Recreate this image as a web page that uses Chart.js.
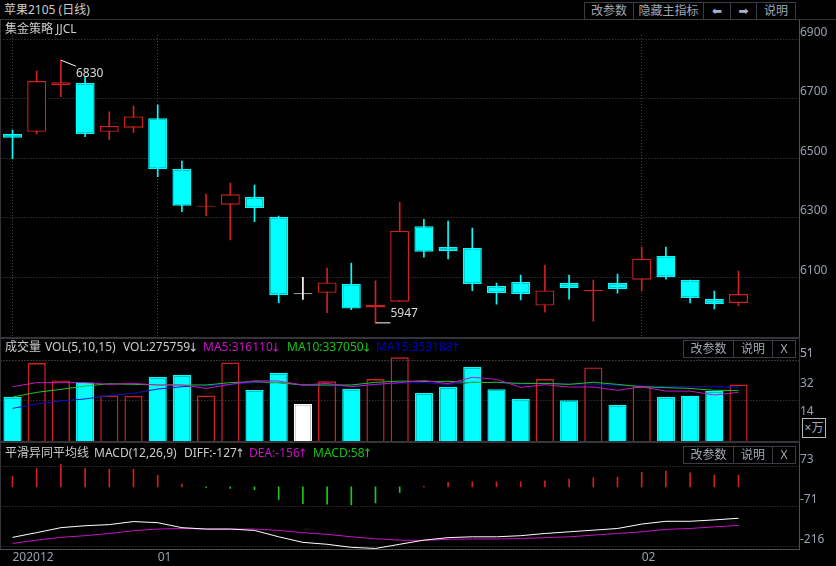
<!DOCTYPE html>
<html>
<head>
<meta charset="utf-8">
<title>苹果2105 (日线)</title>
<script src="https://cdn.jsdelivr.net/npm/chart.js@4"></script>
<style>
html, body { margin: 0; padding: 0; background: #000; }
#page { position: relative; width: 836px; height: 566px; overflow: hidden; background: #000;
        font: 12px "Noto Sans", "Noto Sans CJK SC", sans-serif; color: #cccccc; }
canvas { position: absolute; left: 0; }
.txt { position: absolute; white-space: nowrap; line-height: 14px; }
.ar { display: inline-block; width: 6px; font-size: 10px; font-weight: bold; text-indent: -2px; }
.btn { position: absolute; box-sizing: border-box; border: 1px solid #3a3d44; color: #a2a8b6;
       text-align: center; line-height: 16px; white-space: nowrap; background: #000; }
.sep { position: absolute; background: #34343a; }
.mag { color: #c414c4; } .grn { color: #14c414; } .blu { color: #0000c8; }
</style>
</head>
<body>
<div id="page">
  <canvas id="priceChart" width="836" height="317" style="top:20px"></canvas>
  <canvas id="volChart" width="836" height="102" style="top:339px"></canvas>
  <canvas id="macdChart" width="836" height="123" style="top:443px"></canvas>

  <div class="sep" style="left:0;top:19px;width:836px;height:1px"></div>
  <div class="sep" style="left:0;top:337px;width:800px;height:2px"></div>
  <div class="sep" style="left:0;top:441px;width:800px;height:2px"></div>
  <div class="sep" style="left:0;top:19px;width:1px;height:530px"></div>
  <div class="sep" style="left:799px;top:337px;width:1px;height:106px"></div>

  <div style="position:absolute;left:1px;top:20px;width:798px;height:13px;background:#000"></div>
  <div class="txt" style="left:4px;top:3px">苹果2105 (日线)</div>
  <div class="txt" style="left:5px;top:22px">集金策略 JJCL</div>

  <div class="btn" style="left:584px;top:2px;width:50px;height:18px">改参数</div>
  <div class="btn" style="left:633px;top:2px;width:71px;height:18px">隐藏主指标</div>
  <div class="btn" style="left:703px;top:2px;width:28px;height:18px;color:#a8b4cc;font-family:'DejaVu Sans'">⬅</div>
  <div class="btn" style="left:730px;top:2px;width:27px;height:18px;color:#a8b4cc;font-family:'DejaVu Sans'">➡</div>
  <div class="btn" style="left:756px;top:2px;width:40px;height:18px">说明</div>

  <div class="txt" style="left:5px;top:340px">成交量</div>
  <div class="txt" style="left:45px;top:340px">VOL(5,10,15)</div>
  <div class="txt" style="left:123px;top:340px">VOL:275759<span class="ar">↓</span></div>
  <div class="txt mag" style="left:203px;top:340px">MA5:316110<span class="ar">↓</span></div>
  <div class="txt grn" style="left:287px;top:340px">MA10:337050<span class="ar">↓</span></div>
  <div class="txt blu" style="left:376px;top:340px">MA15:353188<span class="ar">↑</span></div>
  <div class="btn" style="left:683px;top:340px;width:51px;height:18px">改参数</div>
  <div class="btn" style="left:733px;top:340px;width:40px;height:18px">说明</div>
  <div class="btn" style="left:772px;top:340px;width:24px;height:18px">X</div>
  <div class="btn" style="left:802px;top:418px;width:24px;height:20px;border-color:#b8b8b8;line-height:18px">×万</div>

  <div class="txt" style="left:5px;top:446px">平滑异同平均线</div>
  <div class="txt" style="left:94px;top:446px">MACD(12,26,9)</div>
  <div class="txt" style="left:184px;top:446px">DIFF:-127<span class="ar">↑</span></div>
  <div class="txt mag" style="left:249px;top:446px">DEA:-156<span class="ar">↑</span></div>
  <div class="txt grn" style="left:313px;top:446px">MACD:58<span class="ar">↑</span></div>
  <div class="btn" style="left:683px;top:446px;width:51px;height:18px">改参数</div>
  <div class="btn" style="left:733px;top:446px;width:40px;height:18px">说明</div>
  <div class="btn" style="left:772px;top:446px;width:24px;height:18px">X</div>
</div>

<script>
/* Data */
const categories = ['202012', '', '', '', '', '', '01', '', '', '', '', '', '', '', '', '', '',
    '', '', '', '', '', '', '', '', '', '02', '', '', '', '', '', ''];

const opens  = [6582, 6589, 6746, 6753, 6589, 6603, 6635, 6464, 6337, 6344, 6370, 6303, 6043, 6048, 6078, 5999,
    6018, 6272, 6202, 6199, 6071, 6084, 6005, 6081, 6054, 6081, 6092, 6172, 6091, 6027, 6014];
const highs  = [6595, 6793, 6830, 6774, 6656, 6676, 6679, 6491, 6380, 6417, 6410, 6306, 6100, 6131, 6148, 6088,
    6352, 6295, 6289, 6266, 6081, 6108, 6141, 6108, 6091, 6111, 6202, 6202, 6091, 6054, 6121];
const lows   = [6499, 6582, 6707, 6573, 6563, 6586, 6438, 6321, 6307, 6226, 6287, 6015, 6026, 5981, 5991, 5947,
    6018, 6168, 6162, 6055, 6010, 6024, 5983, 6027, 5953, 6047, 6054, 6094, 6014, 5994, 6004];
const closes = [6569, 6760, 6756, 6582, 6609, 6641, 6464, 6341, 6340, 6379, 6333, 6041, 6043, 6083, 5995, 6007,
    6256, 6186, 6188, 6078, 6047, 6044, 6056, 6064, 6058, 6061, 6162, 6101, 6031, 6010, 6044];

const volumes = [28, 49.7, 38.6, 37.2, 29, 28.7, 40.8, 42, 29, 50, 32.5, 43.3, 23.6, 38, 33.3, 39.5,
    53.3, 30.6, 34.4, 47.1, 33, 26.8, 39.5, 26, 46.9, 23, 34.6, 28, 28.9, 31.8, 36];
const ma5  = [34.6, 37.2, 37.2, 37.2, 36.1, 36.7, 35.7, 35.7, 33.5, 36.1, 38.4, 38.2, 35.7, 36.7, 34.6, 36.1,
    37.2, 38.6, 36.5, 40.6, 39.3, 34.2, 35.9, 34.4, 34.4, 32.3, 34.6, 31.8, 31.8, 29.3, 31];
const ma10 = [28, 31, 32.9, 35, 36.5, 36.1, 35.7, 35.7, 35.7, 37.2, 37.8, 37.2, 35.7, 35.7, 35.7, 37.4,
    38.2, 38, 38, 37.2, 37.4, 36.7, 36.7, 36.1, 37.4, 36.1, 34.6, 34, 33.5, 32.3, 32.1];
const ma15 = [20.8, 23.6, 25.5, 26.8, 28.9, 30.4, 33.1, 34.6, 35.2, 36.1, 37.2, 37.2, 35.5, 35.2, 35, 36.1,
    36.9, 37.2, 36.1, 37.4, 37.2, 36.3, 36.9, 36.3, 36.3, 35.5, 35, 34.6, 34.6, 34.6, 34.4];

const macdBars = [38, 66, 82, 67, 64, 64, 42, 10, -2, -5, -10, -45, -60, -62, -65, -58,
    -20, 2, 17, 18, 18, 18, 22, 28, 33, 36, 53, 57, 51, 43, 43];
const diff = [-182, -165, -147, -140, -136, -125, -129, -147, -152, -152, -157, -180, -200, -207, -218, -222,
    -207, -192, -183, -180, -180, -176, -168, -162, -156, -150, -134, -124, -124, -119, -113];
const dea  = [-204, -192, -182, -176, -168, -158, -152, -150, -152, -152, -152, -157, -165, -171, -180, -187,
    -192, -193, -189, -188, -188, -186, -183, -180, -174, -168, -162, -153, -150, -144, -139];

const priceTicks = [6900, 6700, 6500, 6300, 6100];
const volTicks = [51, 32, 14];
const volGrid = [51, 25.5];
const macdTicks = [73, -71, -216];

const RED = '#d02020';
const CYAN = '#00ffff';
const WHITE = '#ffffff';
const GRID = '#484848';
const LABEL = '#98a0b0';
const FONT = { family: '"Noto Sans", sans-serif', size: 12 };

// red when it closed higher, cyan when lower, white when flat
function candleColor(i) {
    if (closes[i] > opens[i]) return RED;
    if (closes[i] < opens[i]) return CYAN;
    return WHITE;
}
const candleColors = opens.map((o, i) => candleColor(i));
const candleFills = candleColors.map(c => c === RED ? '#000000' : c);
const volumeFills = candleColors.map(c => c === RED ? 'transparent' : c);

// keep tick labels from pulling the plot area in
function noScalePadding(scale) {
    scale.paddingTop = 0;
    scale.paddingBottom = 0;
    scale.paddingLeft = 0;
    scale.paddingRight = 0;
}

function rightAxis(min, max, tickValues, extra) {
    return Object.assign({
        position: 'right',
        min: min,
        max: max,
        afterFit: scale => { scale.width = 37; noScalePadding(scale); },
        afterBuildTicks: scale => { scale.ticks = tickValues.map(value => ({ value })); },
        border: { display: true, color: '#4c4e58', dash: [1, 2] },
        grid: { color: GRID, drawTicks: false },
        ticks: {
            color: LABEL, font: FONT, padding: 1, labelOffset: -7,
            callback: value => String(value)
        }
    }, extra);
}

function baseOptions(scales) {
    return {
        responsive: false,
        animation: false,
        events: [],
        layout: { padding: { left: 0.4 } },
        plugins: { legend: { display: false }, tooltip: { enabled: false } },
        scales: scales
    };
}

function hiddenX() {
    return { offset: true, display: false };
}

function lineSet(values, color) {
    return { type: 'line', data: values, borderColor: color, borderWidth: 1, pointRadius: 0, tension: 0, order: 0 };
}

/* Highest and lowest price markers */
const extremeLabels = {
    id: 'extremeLabels',
    afterDatasetsDraw(chart) {
        const ctx = chart.ctx;
        const x = chart.scales.x;
        const y = chart.scales.y;
        const top = Math.max(...highs);
        const bottom = Math.min(...lows);
        const topX = x.getPixelForValue(highs.indexOf(top));
        const topY = y.getPixelForValue(top);
        const botX = x.getPixelForValue(lows.indexOf(bottom));
        const botY = y.getPixelForValue(bottom);

        ctx.save();
        ctx.strokeStyle = '#ffffff';
        ctx.lineWidth = 1;
        ctx.beginPath();
        ctx.moveTo(topX, topY);
        ctx.lineTo(topX + 15, topY + 6);
        ctx.moveTo(botX, botY);
        ctx.lineTo(botX + 15, botY);
        ctx.stroke();
        ctx.fillStyle = '#dcdcdc';
        ctx.font = '12px "Noto Sans", sans-serif';
        ctx.textBaseline = 'middle';
        ctx.fillText(String(top), topX + 15, topY + 13);
        ctx.fillText(String(bottom), botX + 15, botY - 9);
        ctx.restore();
    }
};

new Chart(document.getElementById('priceChart'), {
    type: 'bar',
    data: {
        labels: categories,
        datasets: [{
            data: lows.map((low, i) => [low, highs[i]]),
            backgroundColor: candleColors,
            barThickness: 1,
            grouped: false,
            order: 2
        }, {
            data: opens.map((o, i) => [o, closes[i]]),
            backgroundColor: candleFills,
            borderColor: candleColors,
            borderWidth: 1.4,
            borderSkipped: false,
            minBarLength: 1,
            barPercentage: 0.785,
            categoryPercentage: 1,
            grouped: false,
            order: 1
        }]
    },
    plugins: [extremeLabels],
    options: baseOptions({
        x: {
            offset: true,
            border: { display: false, dash: [1, 2] },
            grid: {
                offset: false,
                drawTicks: false,
                color: ctx => ctx.tick && ctx.tick.label ? GRID : 'transparent'
            },
            ticks: { display: false, autoSkip: false },
            afterFit: scale => { scale.height = 0; noScalePadding(scale); }
        },
        y: rightAxis(5899.5, 6965, priceTicks)
    })
});

new Chart(document.getElementById('volChart'), {
    type: 'bar',
    data: {
        labels: categories,
        datasets: [
            lineSet(ma5, '#c414c4'),
            lineSet(ma10, '#22c422'),
            lineSet(ma15, '#1010c8'),
            {
                data: volumes,
                backgroundColor: volumeFills,
                borderColor: candleColors,
                borderWidth: 1.4,
                borderSkipped: 'bottom',
                barPercentage: 0.75,
                categoryPercentage: 1,
                order: 1
            }
        ]
    },
    options: baseOptions({
        x: hiddenX(),
        y: rightAxis(0, 65, volTicks.concat(volGrid), {
            grid: {
                drawTicks: false,
                color: ctx => ctx.tick && volGrid.includes(ctx.tick.value) ? GRID : 'transparent'
            },
            ticks: {
                color: LABEL, font: FONT, padding: 1, labelOffset: -7,
                callback: value => volTicks.includes(value) ? String(value) : ''
            }
        })
    })
});

new Chart(document.getElementById('macdChart'), {
    type: 'bar',
    data: {
        labels: categories,
        datasets: [
            lineSet(diff, '#ffffff'),
            lineSet(dea, '#c414c4'),
            {
                data: macdBars,
                backgroundColor: macdBars.map(v => v >= 0 ? RED : '#22c422'),
                barThickness: 1,
                order: 1
            }
        ]
    },
    options: baseOptions({
        x: {
            offset: true,
            border: { display: true, color: '#4c4e58' },
            grid: { display: false, offset: false, drawTicks: false },
            afterFit: scale => { scale.height = 17; noScalePadding(scale); },
            ticks: {
                color: LABEL, font: FONT, padding: 1, align: 'start',
                autoSkip: false, maxRotation: 0,
                callback: function (value) { return this.getLabelForValue(value); }
            }
        },
        y: rightAxis(-224, 158.6, macdTicks)
    })
});
</script>
</body>
</html>
